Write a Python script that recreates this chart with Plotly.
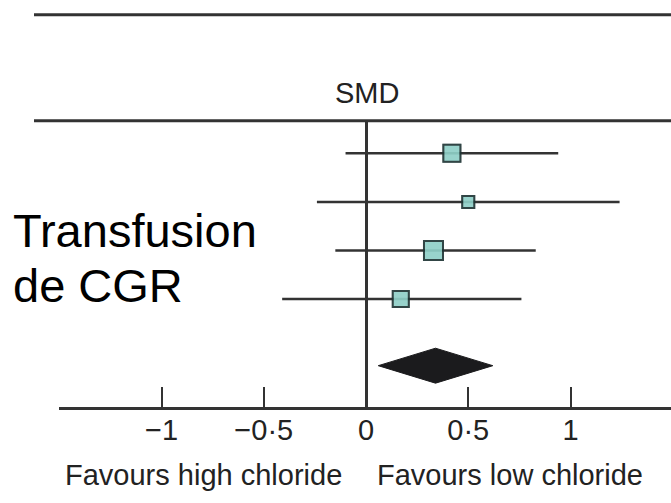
import plotly.graph_objects as go

# Standardised mean differences (SMD) with 95% CI for each study
smd = [0.42, 0.50, 0.33, 0.17]
ci_low = [-0.10, -0.24, -0.15, -0.41]
ci_high = [0.94, 1.24, 0.83, 0.76]

# Pooled estimate (diamond)
pooled_smd = 0.34
pooled_low = 0.06
pooled_high = 0.62

tick_values = [-1, -0.5, 0, 0.5, 1]
tick_labels = ["\u22121", "\u22120\u00b75", "0", "0\u00b75", "1"]

# --- styling / layout constants ---
W, H = 671, 503
L, R, T, B = 59, 0, 121, 96
FONT = "Liberation Sans, Arial, Helvetica, sans-serif"
INK = "#222222"
LINE = "#333333"
BOX_FILL = "#8fd0c8"
BOX_EDGE = "#1e3434"
box_sizes = [17, 12, 19, 16]
pooled_row = 4.37
diamond_half = 0.36

plot_h = H - T - B
plot_w = W - L - R


def px_x(px):
    return (px - L) / plot_w


def px_y(py):
    return (H - B - py) / plot_h


rows = list(range(len(smd)))

fig = go.Figure()

# confidence-interval whiskers
fig.add_trace(go.Scatter(
    x=smd,
    y=rows,
    mode="markers",
    marker=dict(symbol="square", size=box_sizes, color=BOX_FILL,
                line=dict(color=BOX_EDGE, width=2)),
    error_x=dict(type="data", symmetric=False,
                 array=[h - m for h, m in zip(ci_high, smd)],
                 arrayminus=[m - l for m, l in zip(smd, ci_low)],
                 width=0, thickness=2.5, color=LINE),
    showlegend=False,
    hoverinfo="skip",
))
# study boxes drawn on top of the whiskers
fig.add_trace(go.Scatter(
    x=smd, y=rows, mode="markers",
    marker=dict(symbol="square", size=box_sizes, color=BOX_FILL,
                line=dict(color=BOX_EDGE, width=2)),
    showlegend=False, hoverinfo="skip",
))

# pooled diamond
fig.add_trace(go.Scatter(
    x=[pooled_low, pooled_smd, pooled_high, pooled_smd, pooled_low],
    y=[pooled_row, pooled_row - diamond_half, pooled_row,
       pooled_row + diamond_half, pooled_row],
    mode="lines", fill="toself", fillcolor="#1b1b1d",
    line=dict(color="#1b1b1d", width=1),
    showlegend=False, hoverinfo="skip",
))

shapes = [
    dict(type="line", xref="paper", yref="paper",
         x0=px_x(34), x1=1, y0=px_y(14.7), y1=px_y(14.7),
         line=dict(color=LINE, width=3)),
    dict(type="line", xref="paper", yref="paper",
         x0=px_x(34), x1=1, y0=px_y(120.7), y1=px_y(120.7),
         line=dict(color=LINE, width=3)),
]

annotations = [
    dict(text="SMD", x=px_x(366.5), y=px_y(92.8), xref="paper", yref="paper",
         xanchor="center", yanchor="middle", showarrow=False,
         font=dict(family=FONT, size=29, color=INK)),
    dict(text="Transfusion", x=px_x(11), y=px_y(230.5), xref="paper", yref="paper",
         xanchor="left", yanchor="middle", showarrow=False,
         font=dict(family=FONT, size=47, color="#000000")),
    dict(text="de CGR", x=px_x(11), y=px_y(285), xref="paper", yref="paper",
         xanchor="left", yanchor="middle", showarrow=False,
         font=dict(family=FONT, size=47, color="#000000")),
    dict(text="Favours high chloride", x=px_x(203), y=px_y(475), xref="paper", yref="paper",
         xanchor="center", yanchor="middle", showarrow=False,
         font=dict(family=FONT, size=29, color=INK)),
    dict(text="Favours low chloride", x=px_x(509.5), y=px_y(475), xref="paper", yref="paper",
         xanchor="center", yanchor="middle", showarrow=False,
         font=dict(family=FONT, size=29, color=INK)),
]

x_scale = 204.5
x_zero_px = 366
fig.update_layout(
    width=W, height=H,
    margin=dict(l=L, r=R, t=T, b=B, pad=0),
    paper_bgcolor="white", plot_bgcolor="white",
    shapes=shapes, annotations=annotations,
    xaxis=dict(
        range=[(L - x_zero_px) / x_scale, (W - R - x_zero_px) / x_scale],
        tickvals=tick_values, ticktext=tick_labels,
        ticks="inside", ticklen=20, tickwidth=2, tickcolor=LINE,
        ticklabelstandoff=-5,
        showline=True, linecolor=LINE, linewidth=3,
        showgrid=False,
        zeroline=True, zerolinecolor=LINE, zerolinewidth=2.5,
        tickfont=dict(family=FONT, size=29, color=INK),
        fixedrange=True,
    ),
    yaxis=dict(
        range=[(H - B - 153.3) / 48.6, (T - 153.3) / 48.6],
        visible=False, showgrid=False, zeroline=False, fixedrange=True,
    ),
)

fig.write_html("out.html")
